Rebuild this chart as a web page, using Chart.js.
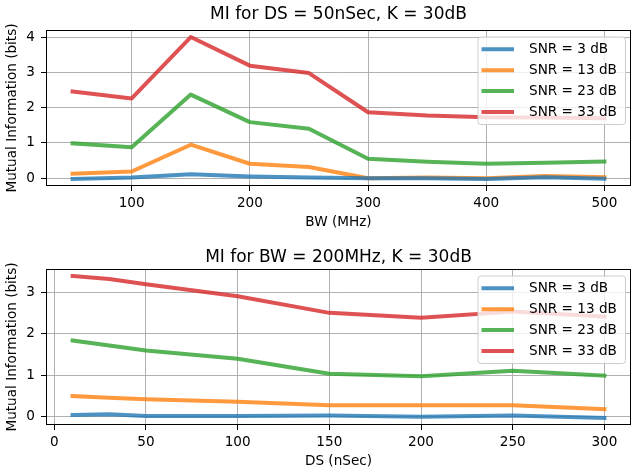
<!DOCTYPE html>
<html>
<head>
<meta charset="utf-8">
<script src="https://cdn.jsdelivr.net/npm/chart.js@4.4.1/dist/chart.umd.min.js"></script>
<style>
  html, body { margin: 0; padding: 0; background: #fff; }
  canvas { display: block; }
</style>
</head>
<body>
<canvas id="bwChart" width="632" height="237"></canvas>
<canvas id="dsChart" width="632" height="238"></canvas>
<script>
// series labels
const snrLabels = ["SNR = 3 dB", "SNR = 13 dB", "SNR = 23 dB", "SNR = 33 dB"];

// top plot: MI vs bandwidth (DS = 50nSec)
const bwValues = [50, 100, 150, 200, 250, 300, 350, 400, 450, 500];
const bwSnr3  = [-0.02, 0.02, 0.11, 0.05, 0.02, 0.00, 0.00, -0.02, 0.03, -0.01];
const bwSnr13 = [0.13, 0.19, 0.95, 0.41, 0.32, 0.00, 0.02, 0.00, 0.06, 0.03];
const bwSnr23 = [0.99, 0.88, 2.37, 1.59, 1.40, 0.55, 0.47, 0.41, 0.44, 0.47];
const bwSnr33 = [2.46, 2.26, 4.00, 3.19, 2.98, 1.87, 1.78, 1.73, 1.72, 1.70];
const bwTicks = [100, 200, 300, 400, 500];
const bwMiTicks = [0, 1, 2, 3, 4];

// bottom plot: MI vs delay spread (BW = 200MHz)
const dsValues = [10, 30, 50, 100, 150, 200, 250, 300];
const dsSnr3  = [0.04, 0.06, 0.02, 0.02, 0.03, 0.00, 0.03, -0.03];
const dsSnr13 = [0.50, 0.46, 0.42, 0.36, 0.28, 0.28, 0.28, 0.18];
const dsSnr23 = [1.84, 1.72, 1.60, 1.40, 1.04, 0.98, 1.11, 0.99];
const dsSnr33 = [3.40, 3.33, 3.20, 2.91, 2.51, 2.39, 2.54, 2.42];
const dsTicks = [0, 50, 100, 150, 200, 250, 300];
const dsMiTicks = [0, 1, 2, 3];

const colors = [
    'rgba(31,119,180,0.8)',
    'rgba(255,127,14,0.8)',
    'rgba(44,160,44,0.8)',
    'rgba(214,39,40,0.8)'
];
const FONT = "'DejaVu Sans', sans-serif";

// black frame around the plot area (like matplotlib spines)
const framePlugin = {
    id: 'frame',
    afterDatasetsDraw(chart) {
        const a = chart.chartArea, ctx = chart.ctx;
        ctx.save();
        ctx.strokeStyle = '#000';
        ctx.lineWidth = 1;
        ctx.strokeRect(Math.round(a.left) + 0.5, Math.round(a.top) + 0.5,
                       Math.round(a.right - a.left) - 1, Math.round(a.bottom - a.top) - 1);
        ctx.restore();
    }
};

// legend drawn inside the plot, upper right
const insideLegend = {
    id: 'insideLegend',
    afterDraw(chart) {
        const a = chart.chartArea, ctx = chart.ctx;
        const w = 147.5, h = 87.5;
        const x = a.right - 5.5 - w, y = a.top + 7;
        ctx.save();
        ctx.beginPath();
        ctx.roundRect(x, y, w, h, 3);
        ctx.fillStyle = 'rgba(255,255,255,0.8)';
        ctx.fill();
        ctx.strokeStyle = '#cccccc';
        ctx.lineWidth = 1;
        ctx.stroke();
        ctx.font = '13.6px ' + FONT;
        ctx.textBaseline = 'middle';
        ctx.fillStyle = '#000';
        chart.data.datasets.forEach((ds, i) => {
            const ry = y + 12.3 + i * 20.9;
            ctx.beginPath();
            ctx.moveTo(x + 3.5, ry);
            ctx.lineTo(x + 36, ry);
            ctx.strokeStyle = ds.borderColor;
            ctx.lineWidth = 4;
            ctx.stroke();
            ctx.fillText(ds.label, x + 51, ry);
        });
        ctx.restore();
    }
};

function makeChart(id, title, titlePad, xLabel, xLabelPad, xs, series, xMin, xMax, xTicks, yMin, yMax, yTicks, xHeight) {
    const datasets = series.map((vals, i) => ({
        label: snrLabels[i],
        data: xs.map((x, j) => ({ x: x, y: vals[j] })),
        borderColor: colors[i],
        backgroundColor: colors[i],
        borderWidth: 4,
        borderCapStyle: 'square',
        borderJoinStyle: 'round',
        pointRadius: 0,
        tension: 0,
        fill: false
    }));
    const tickFont = { family: FONT, size: 13.6 };
    return new Chart(document.getElementById(id).getContext('2d'), {
        type: 'line',
        data: { datasets: datasets },
        options: {
            responsive: false,
            animation: false,
            devicePixelRatio: 1,
            layout: { padding: { left: 0, right: 1, top: 0, bottom: 0 } },
            plugins: {
                legend: { display: false },
                tooltip: { enabled: false },
                title: {
                    display: true,
                    fullSize: false,
                    text: title,
                    color: '#000',
                    font: { family: FONT, size: 17, weight: 'normal' },
                    padding: titlePad
                }
            },
            scales: {
                x: {
                    type: 'linear',
                    min: xMin,
                    max: xMax,
                    afterBuildTicks: s => { s.ticks = xTicks.map(v => ({ value: v })); },
                    afterFit: s => { s.height = xHeight; },
                    grid: { color: '#b0b0b0', lineWidth: 1, tickColor: '#000', tickLength: 5, drawTicks: true },
                    border: { display: false },
                    ticks: { color: '#000', font: tickFont, padding: 4, maxRotation: 0 },
                    title: { display: true, text: xLabel, color: '#000', font: tickFont, padding: { top: 0, bottom: xLabelPad } }
                },
                y: {
                    type: 'linear',
                    min: yMin,
                    max: yMax,
                    afterBuildTicks: s => { s.ticks = yTicks.map(v => ({ value: v })); },
                    afterFit: s => { s.width = 46; },
                    grid: { color: '#b0b0b0', lineWidth: 1, tickColor: '#000', tickLength: 5, drawTicks: true },
                    border: { display: false },
                    ticks: { color: '#000', font: tickFont, padding: 6 },
                    title: { display: true, text: 'Mutual Information (bits)', color: '#000', font: tickFont, padding: { top: 4, bottom: 0 } }
                }
            }
        },
        plugins: [framePlugin, insideLegend]
    });
}

makeChart('bwChart', 'MI for DS = 50nSec, K = 30dB', { top: 4.3, bottom: 5.3 },
    'BW (MHz)', 6.8, bwValues, [bwSnr3, bwSnr13, bwSnr23, bwSnr33],
    27.5, 522.5, bwTicks, -0.22, 4.2, bwMiTicks, 51);

makeChart('dsChart', 'MI for BW = 200MHz, K = 30dB', { top: 10.2, bottom: 1.4 },
    'DS (nSec)', 5.8, dsValues, [dsSnr3, dsSnr13, dsSnr23, dsSnr33],
    -4.5, 314.5, dsTicks, -0.2, 3.57, dsMiTicks, 50);
</script>
</body>
</html>
